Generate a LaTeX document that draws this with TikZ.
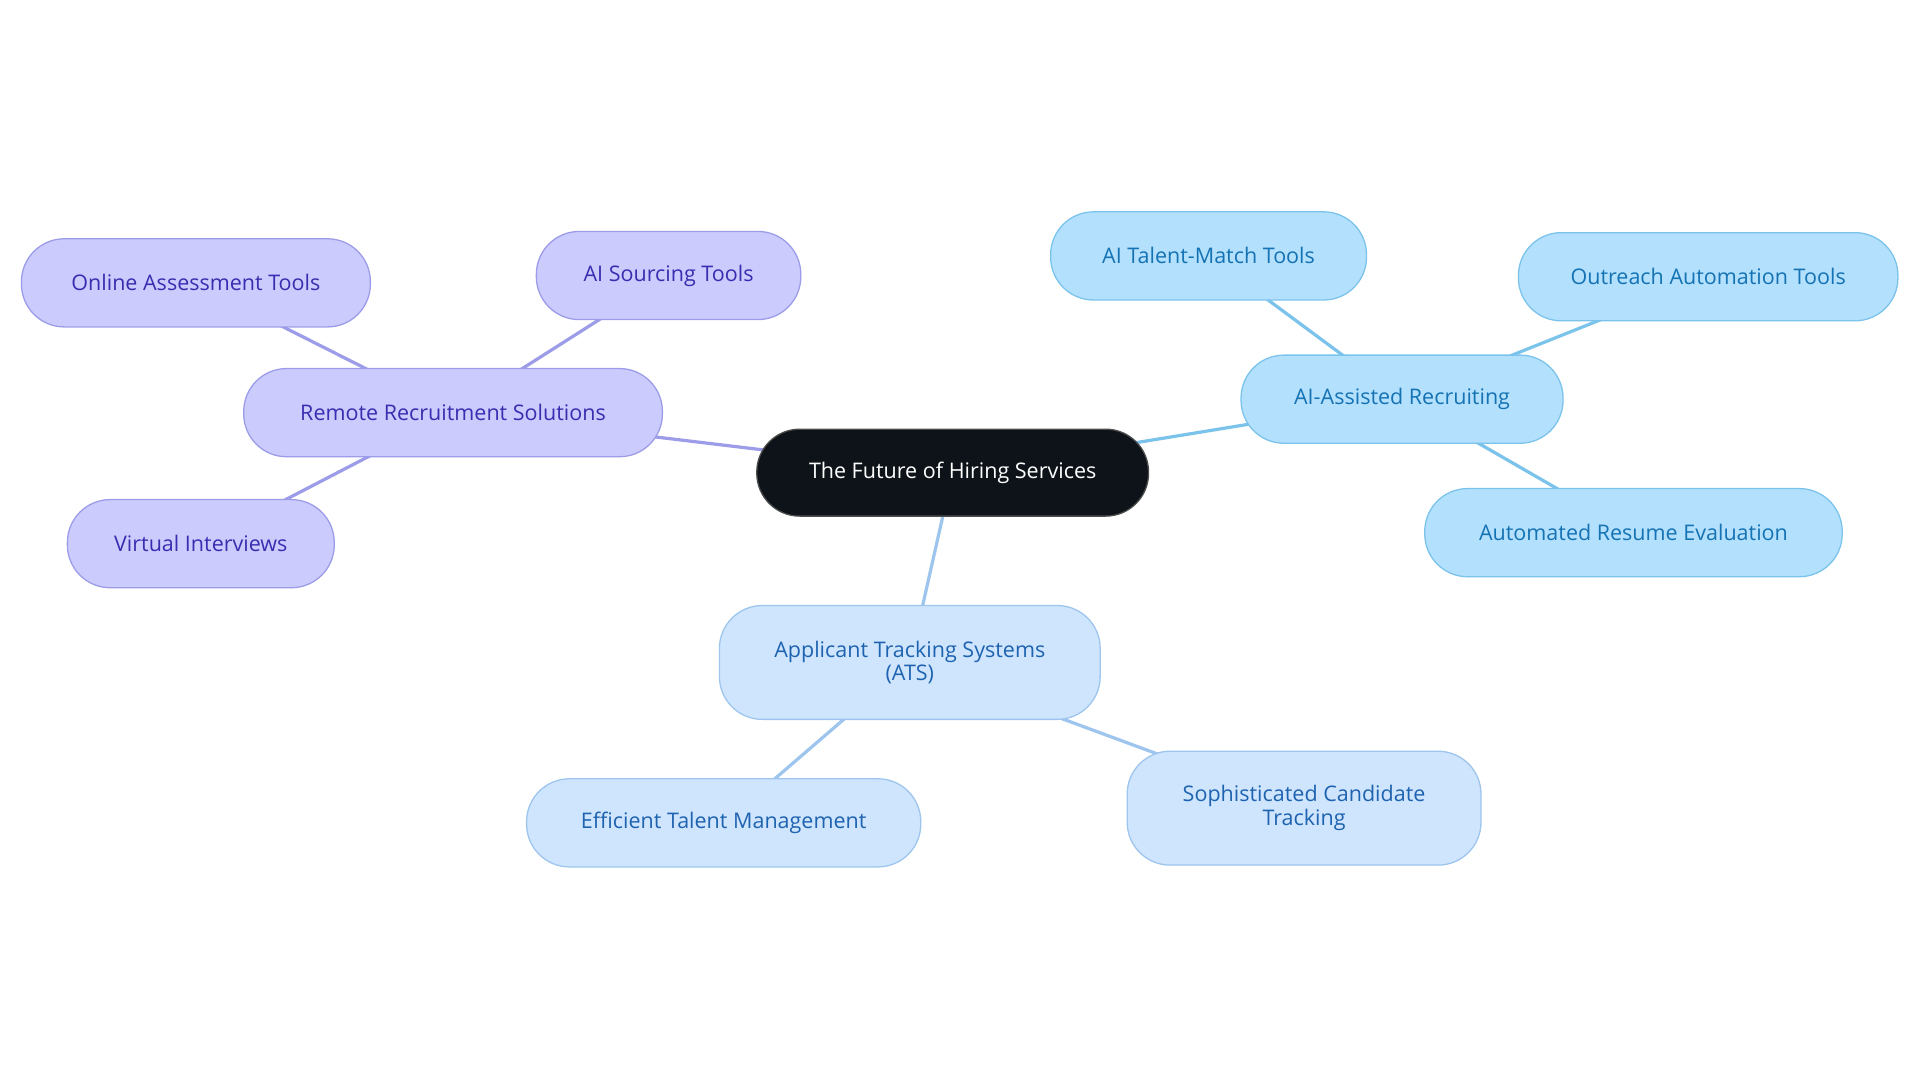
\documentclass[tikz,border=0pt]{standalone}
\usepackage{fontspec}
\setmainfont{Open Sans}
\usetikzlibrary{backgrounds}
\definecolor{rootfill}{HTML}{0D1318}
\definecolor{pfill}{HTML}{CBCBFD}\definecolor{pline}{HTML}{9C9CE8}\definecolor{ptext}{HTML}{3B2DB0}
\definecolor{bfill}{HTML}{B3E0FD}\definecolor{bline}{HTML}{7BC3EB}\definecolor{btext}{HTML}{1573B4}
\definecolor{afill}{HTML}{CFE5FD}\definecolor{aline}{HTML}{9EC5ED}\definecolor{atext}{HTML}{1E63B0}
\tikzset{
  box/.style={draw, rounded corners=0.7cm, align=center, inner sep=0pt,
    font=\fontsize{10}{11}\selectfont, line width=0.6pt},
  root/.style={box, fill=rootfill, draw=black!70, text=white},
  purple/.style={box, fill=pfill, draw=pline, text=ptext},
  blue/.style={box, fill=bfill, draw=bline, text=btext},
  ats/.style={box, fill=afill, draw=aline, text=atext},
  link/.style={line width=1.5pt}
}
\begin{document}
\begin{tikzpicture}[x=0.02cm,y=-0.02cm]
\useasboundingbox (0,0) rectangle (1568,884);
% root
\node[root, minimum width=6.4cm, minimum height=1.42cm] (root) at (778,386) {The Future of Hiring Services};
% remote recruitment
\node[purple, minimum width=6.84cm, minimum height=1.44cm] (remote) at (370,337) {Remote Recruitment Solutions};
\node[purple, minimum width=5.7cm, minimum height=1.44cm] (online) at (160,231) {Online Assessment Tools};
\node[purple, minimum width=4.32cm, minimum height=1.44cm] (sourcing) at (546,225) {AI Sourcing Tools};
\node[purple, minimum width=4.36cm, minimum height=1.44cm] (virtual) at (164,444) {Virtual Interviews};
% ai-assisted
\node[blue, minimum width=5.26cm, minimum height=1.44cm] (aiassist) at (1145,326) {AI-Assisted Recruiting};
\node[blue, minimum width=5.16cm, minimum height=1.44cm] (talent) at (987,209) {AI Talent-Match Tools};
\node[blue, minimum width=6.2cm, minimum height=1.44cm] (outreach) at (1395,226) {Outreach Automation Tools};
\node[blue, minimum width=6.82cm, minimum height=1.44cm] (resume) at (1334,435) {Automated Resume Evaluation};
% ats
\node[ats, minimum width=6.22cm, minimum height=1.86cm] (atsys) at (743,541) {Applicant Tracking Systems\\(ATS)};
\node[ats, minimum width=6.44cm, minimum height=1.44cm] (efficient) at (591,672) {Efficient Talent Management};
\node[ats, minimum width=5.78cm, minimum height=1.86cm] (tracking) at (1065,660) {Sophisticated Candidate\\Tracking};

\begin{pgfonlayer}{background}
\draw[link, pline] (root.center) -- (remote.center)
  (remote.center) -- (online.center) (remote.center) -- (sourcing.center) (remote.center) -- (virtual.center);
\draw[link, bline] (root.center) -- (aiassist.center)
  (aiassist.center) -- (talent.center) (aiassist.center) -- (outreach.center) (aiassist.center) -- (resume.center);
\draw[link, aline] (root.center) -- (atsys.center)
  (atsys.center) -- (efficient.center) (atsys.center) -- (tracking.center);
\end{pgfonlayer}
\end{tikzpicture}
\end{document}
